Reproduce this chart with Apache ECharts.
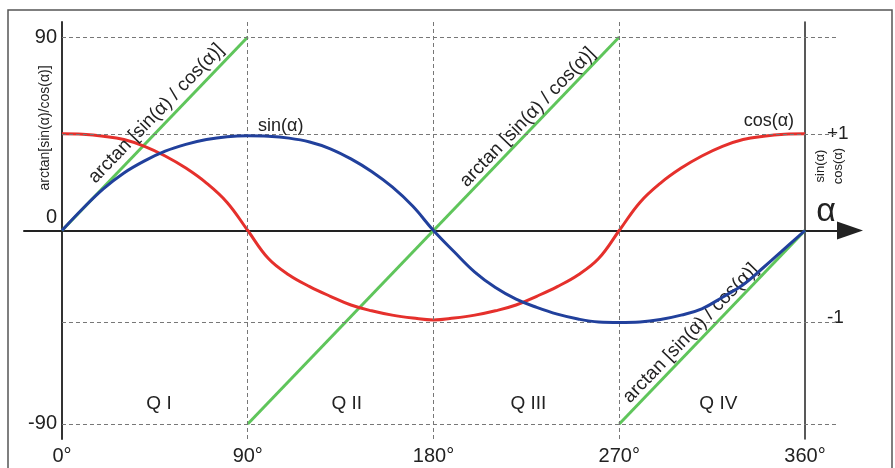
<!DOCTYPE html>
<html>
<head>
<meta charset="utf-8">
<title>sin, cos, arctan</title>
<script src="https://cdn.jsdelivr.net/npm/echarts@6/dist/echarts.min.js"></script>
<style>
    html, body { margin: 0; padding: 0; background: #fff; }
    #main { width: 895px; height: 468px; }
</style>
</head>
<body>
<div id="main"></div>
<script>
    // angle in degrees, step 10 (+1 / -1 guide = curve top / bottom)
    var angleDeg = [0, 10, 20, 30, 40, 50, 60, 70, 80, 90, 100, 110, 120, 130, 140, 150, 160, 170, 180,
                    190, 200, 210, 220, 230, 240, 250, 260, 270, 280, 290, 300, 310, 320, 330, 340, 350, 360];
    var sinAlpha = [0, 0.225, 0.43, 0.595, 0.72, 0.82, 0.89, 0.94, 0.97, 0.98,
                    0.975, 0.955, 0.915, 0.845, 0.74, 0.61, 0.45, 0.25, 0,
                    -0.22, -0.43, -0.59, -0.71, -0.795, -0.865, -0.915, -0.945, -0.95,
                    -0.945, -0.92, -0.875, -0.81, -0.69, -0.56, -0.38, -0.19, 0];
    var cosAlpha = [1, 0.995, 0.975, 0.94, 0.87, 0.77, 0.645, 0.49, 0.29, 0,
                    -0.29, -0.46, -0.58, -0.68, -0.77, -0.83, -0.875, -0.905, -0.925,
                    -0.905, -0.875, -0.83, -0.77, -0.68, -0.58, -0.46, -0.29, 0,
                    0.29, 0.49, 0.645, 0.77, 0.87, 0.94, 0.975, 0.995, 1];

    // arctan[sin/cos] branches: [x start, x end] and [y start, y end]
    var arctanX = [[0, 90], [90, 270], [270, 360]];
    var arctanY = [[0, 90], [-90, 90], [-90, 0]];

    var xTicks = [0, 90, 180, 270, 360];
    var xTickLabels = ['0°', '90°', '180°', '270°', '360°'];
    var leftTicks = [-90, 0, 90];
    var rightTicks = [-0.95, 1];
    var rightTickLabels = ['-1', '+1'];
    var quadrantLabels = ['Q I', 'Q II', 'Q III', 'Q IV'];

    var FONT = 'Liberation Sans, Arial, sans-serif';
    var TEXT = '#222';
    var RED = '#e5302c', BLUE = '#21409c', GREEN = '#5fc55b';
    var X_MIN = -18.41, X_MAX = 381.8;
    var Y_MAX = 97, Y2_MAX = 97 / 45;

    var dashed = {color: '#777', width: 1, type: [4, 3]};

    function pairs(xs, ys){
        return xs.map(function(x, i){ return [x, ys[i]]; });
    }

    function arctanSeries(i, labelCoord){
        return {
            name: 'arctan' + i,
            type: 'line',
            yAxisIndex: 0,
            symbol: 'none',
            z: 3,
            lineStyle: {color: GREEN, width: 3},
            data: pairs(arctanX[i], arctanY[i]),
            markPoint: {
                symbol: 'circle',
                symbolSize: 0,
                silent: true,
                label: {
                    show: true,
                    formatter: 'arctan [sin(α) / cos(α)]',
                    rotate: 46,
                    offset: [-10, -10],
                    fontSize: 19,
                    fontFamily: FONT,
                    color: TEXT
                },
                data: [{coord: labelCoord}]
            }
        };
    }

    var hLine = function(y){ return [{coord: [0, y]}, {coord: [375.5, y]}]; };

    var option = {
        animation: false,
        backgroundColor: '#fff',
        grid: {left: 24, right: 45, top: 22, bottom: 29, containLabel: false},
        xAxis: [
            {
                type: 'value',
                min: X_MIN,
                max: X_MAX,
                axisLine: {
                    onZero: true,
                    symbol: ['none', 'triangle'],
                    symbolSize: [18, 26],
                    lineStyle: {color: '#222', width: 2}
                },
                axisTick: {show: false},
                axisLabel: {show: false},
                splitLine: {show: false}
            },
            {
                type: 'value',
                position: 'bottom',
                min: X_MIN,
                max: X_MAX,
                axisLine: {show: false, onZero: false},
                axisTick: {show: false},
                axisLabel: {
                    customValues: xTicks,
                    formatter: function(v){ return xTickLabels[xTicks.indexOf(v)]; },
                    margin: 7,
                    fontSize: 20,
                    fontFamily: FONT,
                    color: TEXT
                },
                splitLine: {show: false}
            }
        ],
        yAxis: [
            {
                type: 'value',
                position: 'left',
                offset: -38,
                min: -Y_MAX,
                max: Y_MAX,
                axisLine: {show: true, onZero: false, lineStyle: {color: '#333', width: 2}},
                axisTick: {show: false},
                splitLine: {show: false},
                axisLabel: {
                    customValues: leftTicks,
                    margin: 5,
                    fontSize: 20,
                    fontFamily: FONT,
                    color: TEXT,
                    formatter: function(v){ return v === 0 ? '{z|0}' : String(v); },
                    rich: {z: {fontSize: 20, fontFamily: FONT, color: TEXT, padding: [0, 0, 26, 0]}}
                }
            },
            {
                type: 'value',
                position: 'right',
                offset: -45,
                min: -Y2_MAX,
                max: Y2_MAX,
                axisLine: {show: true, onZero: false, lineStyle: {color: '#222', width: 1.5}},
                axisTick: {show: false},
                splitLine: {show: false},
                axisLabel: {
                    customValues: rightTicks,
                    margin: 22,
                    fontSize: 19,
                    fontFamily: FONT,
                    color: TEXT,
                    formatter: function(v){
                        var t = rightTickLabels[rightTicks.indexOf(v)];
                        return v < 0 ? '{m|' + t + '}' : t;
                    },
                    rich: {m: {fontSize: 19, fontFamily: FONT, color: TEXT, padding: [0, 0, 10, 0]}}
                }
            }
        ],
        series: [
            {
                // guide lines and quadrant names
                name: 'guides',
                type: 'line',
                yAxisIndex: 0,
                data: [],
                z: 1,
                markLine: {
                    silent: true,
                    symbol: ['none', 'none'],
                    label: {show: false},
                    lineStyle: dashed,
                    data: [
                        [{coord: [90, -Y_MAX]}, {coord: [90, Y_MAX]}],
                        [{coord: [180, -Y_MAX]}, {coord: [180, Y_MAX]}],
                        [{coord: [270, -Y_MAX]}, {coord: [270, Y_MAX]}],
                        hLine(90), hLine(45), hLine(-0.95 * 45), hLine(-90)
                    ]
                },
                markPoint: {
                    symbol: 'circle',
                    symbolSize: 0,
                    silent: true,
                    label: {show: true, fontSize: 19, fontFamily: FONT, color: TEXT, formatter: '{b}'},
                    data: [
                        {name: quadrantLabels[0], coord: [47, -80.5]},
                        {name: quadrantLabels[1], coord: [138, -80.5]},
                        {name: quadrantLabels[2], coord: [226, -80.5]},
                        {name: quadrantLabels[3], coord: [318, -80.5]}
                    ]
                }
            },
            arctanSeries(0, [52.5, 54.5]),
            arctanSeries(1, [232.5, 52.8]),
            arctanSeries(2, [311.5, -47.7]),
            {
                name: 'cos',
                type: 'line',
                yAxisIndex: 1,
                symbol: 'none',
                smooth: 0.4,
                z: 4,
                lineStyle: {color: RED, width: 3},
                data: pairs(angleDeg, cosAlpha),
                markPoint: {
                    symbol: 'circle', symbolSize: 0, silent: true,
                    label: {show: true, formatter: 'cos(α)', fontSize: 18, fontFamily: FONT, color: TEXT},
                    data: [{coord: [342.5, 1.13]}]
                }
            },
            {
                name: 'sin',
                type: 'line',
                yAxisIndex: 1,
                symbol: 'none',
                smooth: 0.4,
                z: 5,
                lineStyle: {color: BLUE, width: 3},
                data: pairs(angleDeg, sinAlpha),
                markPoint: {
                    symbol: 'circle', symbolSize: 0, silent: true,
                    label: {show: true, formatter: 'sin(α)', fontSize: 18, fontFamily: FONT, color: TEXT},
                    data: [{coord: [106, 1.08]}]
                }
            }
        ],
        graphic: [
            {
                type: 'rect', silent: true, z: 0,
                shape: {x: 8, y: 10, width: 884, height: 470},
                style: {fill: 'none', stroke: '#555', lineWidth: 1.5}
            },
            {
                type: 'text', silent: true,
                x: 45, y: 128, rotation: Math.PI / 2,
                style: {text: 'arctan[sin(α)/cos(α)]', font: '14px ' + FONT, fill: TEXT, textAlign: 'center', textVerticalAlign: 'middle'}
            },
            {
                type: 'text', silent: true,
                x: 829, y: 166, rotation: Math.PI / 2,
                style: {text: 'sin(α)\ncos(α)', font: '13px ' + FONT, fill: TEXT, textAlign: 'center', textVerticalAlign: 'middle', lineHeight: 18}
            },
            {
                type: 'text', silent: true,
                x: 826, y: 212,
                style: {text: 'α', font: '34px ' + FONT, fill: TEXT, textAlign: 'center', textVerticalAlign: 'middle'}
            }
        ]
    };

    var chart = echarts.init(document.getElementById('main'));
    chart.setOption(option);
</script>
</body>
</html>
